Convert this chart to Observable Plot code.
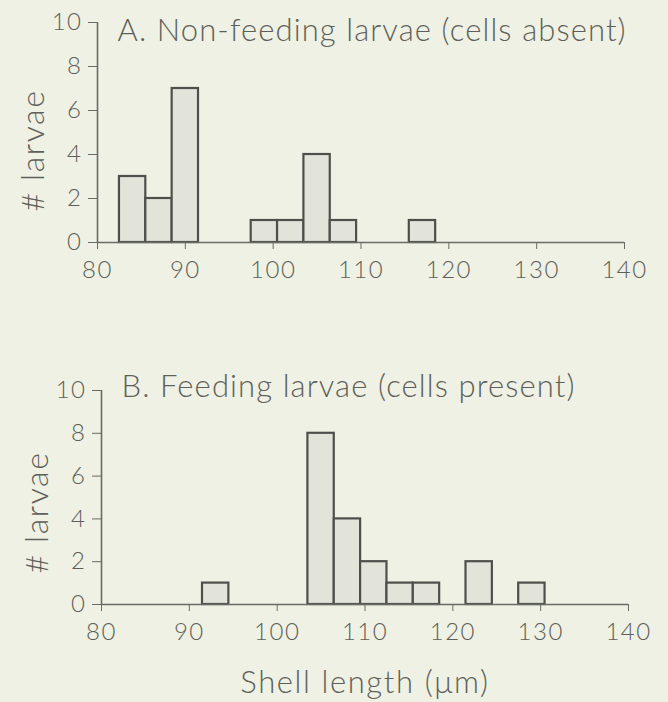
<!DOCTYPE html>
<html>
<head>
<meta charset="utf-8">
<script src="https://cdn.jsdelivr.net/npm/d3@7"></script>
<script src="https://cdn.jsdelivr.net/npm/@observablehq/plot@0.6"></script>
<style>
  html, body { margin: 0; padding: 0; background: #eef1e3; }
  #chart svg { display: block; }
  .ttl text { letter-spacing: 1.1px; }
  .ylab text { letter-spacing: 1.6px; }
  .xlab text { letter-spacing: 1.6px; }
  g[aria-label="x-axis tick label"] text, g[aria-label="y-axis tick label"] text { letter-spacing: 1.5px; }
</style>
</head>
<body>
<div id="chart"></div>
<script>
const binWidth = 3;
const aCenters = [84, 87, 90, 99, 102, 105, 108, 117];
const aCounts = [3, 2, 7, 1, 1, 4, 1, 1];
const bCenters = [93, 105, 108, 111, 114, 117, 123, 129];
const bCounts = [1, 8, 4, 2, 1, 1, 2, 1];
const xTicks = [80, 90, 100, 110, 120, 130, 140];
const yTicks = [0, 2, 4, 6, 8, 10];
const titleA = "A. Non-feeding larvae (cells absent)";
const titleB = "B. Feeding larvae (cells present)";
const yLabel = "# larvae";
const xLabel = "Shell length (\u03bcm)";

const FONT = "Lato, 'Open Sans', 'DejaVu Sans', sans-serif";
const INK = "#5e5f5a";
const AXIS = "#6a6b66";

function panel({centers, counts, title, height, marginLeft, marginRight, marginTop, marginBottom, titleDy, yLabelDy, showX}) {
  const data = centers.map((c, i) => ({lo: c - binWidth / 2, hi: c + binWidth / 2, n: counts[i]}));
  const marks = [
    Plot.rectY(data, {x1: "lo", x2: "hi", y: "n", fill: "#e2e4da", stroke: "#4e4f4b", strokeWidth: 2.2}),
    Plot.ruleY([0], {stroke: AXIS, strokeWidth: 1.6}),
    Plot.ruleX([80], {stroke: AXIS, strokeWidth: 1.6}),
    Plot.axisX({ticks: xTicks, tickSize: 7, tickPadding: 11, label: null, stroke: AXIS, fontSize: 24}),
    Plot.axisY({ticks: yTicks, tickSize: 9, tickPadding: 6, label: null, stroke: AXIS, fontSize: 24}),
    Plot.text([title], {frameAnchor: "top-left", dx: 20, dy: titleDy, textAnchor: "start", lineAnchor: "top",
      fontSize: 31, fill: INK, className: "ttl"}),
    Plot.text([yLabel], {frameAnchor: "left", rotate: -90, dx: -64, dy: yLabelDy, textAnchor: "middle",
      fontSize: 32, fill: INK, className: "ylab"})
  ];
  if (showX) {
    marks.push(Plot.text([xLabel], {frameAnchor: "bottom", dy: 88, lineAnchor: "bottom", fontSize: 31,
      fill: INK, className: "xlab"}));
  }
  return Plot.plot({
    width: 668, height, marginLeft, marginRight, marginTop, marginBottom,
    style: {background: "transparent", color: INK, fontFamily: FONT, fontWeight: 300, overflow: "visible"},
    x: {domain: [80, 140]},
    y: {domain: [0, 10]},
    marks
  });
}

const root = document.getElementById("chart");
root.append(panel({centers: aCenters, counts: aCounts, title: titleA, height: 340,
  marginLeft: 97, marginRight: 44, marginTop: 22, marginBottom: 98, titleDy: -4, yLabelDy: 18, showX: false}));
root.append(panel({centers: bCenters, counts: bCounts, title: titleB, height: 362,
  marginLeft: 101, marginRight: 40, marginTop: 50, marginBottom: 98, titleDy: -16, yLabelDy: 15, showX: true}));
</script>
</body>
</html>
